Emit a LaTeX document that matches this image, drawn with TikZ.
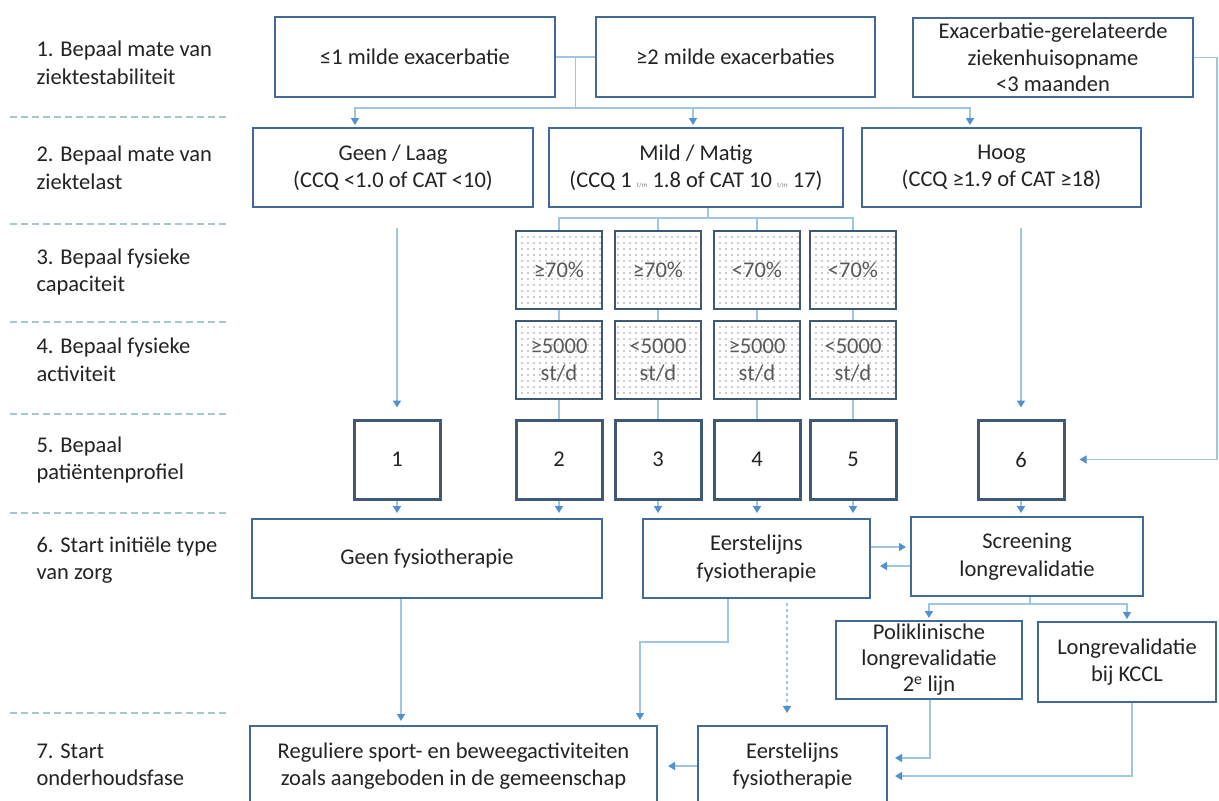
\documentclass[tikz,border=0pt]{standalone}
\usepackage{fontspec}
\setmainfont{Carlito}
\usetikzlibrary{arrows.meta,patterns.meta,calc}
\definecolor{boxc}{RGB}{66,106,152}
\definecolor{numc}{RGB}{62,88,118}
\definecolor{linec}{RGB}{160,198,225}
\definecolor{arrc}{RGB}{80,145,210}
\definecolor{dashc}{RGB}{165,200,205}
\definecolor{txt}{RGB}{35,35,35}
\newcommand{\tmx}{{\fontsize{7}{7}\selectfont\color{gray}t/m}}
\tikzset{
 box/.style={draw=boxc, line width=2pt, fill=white, align=center, text=txt, inner sep=1pt},
 numbox/.style={draw=numc, line width=3pt, minimum width=86pt, minimum height=79pt, text=txt},
 dotbox/.style={draw=numc, line width=2.5pt, pattern={Dots[distance=6pt,radius=0.9pt]}, pattern color=gray!80, minimum width=86pt, minimum height=78pt, align=center, text=black!65, inner sep=1pt},
 conn/.style={draw=linec, line width=1.6pt},
 arr/.style={conn, -{Triangle[color=arrc,width=8pt,length=7pt]}},
 sep/.style={draw=dashc, line width=2pt, dash pattern=on 7pt off 4pt},
 lab/.style={anchor=west, align=left, text=txt},
}
\begin{document}
\begin{tikzpicture}[x=1pt,y=-1pt,every node/.style={font=\fontsize{22.5}{27.5}\selectfont}]
\useasboundingbox[fill=white] (0,0) rectangle (1219,801);

% separators
\foreach \y in {117,224,322,414,513,713} \draw[sep] (10,\y) -- (229,\y);

% left labels
\node[lab] (l1) at (33,63) {1. Bepaal mate van\\ziektestabiliteit};
\node[lab] (l2) at (33,168) {2. Bepaal mate van\\ziektelast};
\node[lab] (l3) at (33,272) {3. Bepaal fysieke\\capaciteit};
\node[lab] (l4) at (33,360) {4. Bepaal fysieke\\activiteit};
\node[lab] (l5) at (33,460) {5. Bepaal\\patiëntenprofiel};
\node[lab] (l6) at (33,560) {6. Start initiële type\\van zorg};
\node[lab] (l7) at (33,765) {7. Start\\onderhoudsfase};

% row 1
\node[box, minimum width=280pt, minimum height=80pt] (b1a) at (415,57) {≤1 milde exacerbatie};
\node[box, minimum width=279pt, minimum height=80pt] (b1b) at (735.5,57) {≥2 milde exacerbaties};
\node[box, minimum width=280pt, minimum height=79pt, font=\fontsize{22.5}{26.5}\selectfont] (b1c) at (1053,57.5) {Exacerbatie-gerelateerde\\ziekenhuisopname\\<3 maanden};

% row 2
\node[box, minimum width=280pt, minimum height=79pt] (geen) at (393,167.5) {Geen / Laag\\(CCQ <1.0 of CAT <10)};
\node[box, minimum width=294pt, minimum height=79pt] (mild) at (696,167.5) {Mild / Matig\\(CCQ 1 \tmx{} 1.8 of CAT 10 \tmx{} 17)};
\node[box, minimum width=279pt, minimum height=79pt] (hoog) at (1001.5,167.5) {Hoog\\(CCQ ≥1.9 of CAT ≥18)};

% rows 3 and 4
\node[dotbox] (c1) at (559,270) {≥70\%};
\node[dotbox] (c2) at (658,270) {≥70\%};
\node[dotbox] (c3) at (757,270) {<70\%};
\node[dotbox] (c4) at (853,270) {<70\%};
\node[dotbox] (a1) at (559,360) {≥5000\\st/d};
\node[dotbox] (a2) at (658,360) {<5000\\st/d};
\node[dotbox] (a3) at (757,360) {≥5000\\st/d};
\node[dotbox] (a4) at (853,360) {<5000\\st/d};

% row 5
\node[numbox] (p1) at (397,459.5) {1};
\node[numbox] (p2) at (559,459.5) {2};
\node[numbox] (p3) at (658,459.5) {3};
\node[numbox] (p4) at (757,459.5) {4};
\node[numbox] (p5) at (853,459.5) {5};
\node[numbox] (p6) at (1021,459.5) {6};

% row 6
\node[box, minimum width=350pt, minimum height=79pt] (gf) at (427,558.5) {Geen fysiotherapie};
\node[box, minimum width=227pt, minimum height=79pt] (e1) at (756.5,558.5) {Eerstelijns\\fysiotherapie};
\node[box, minimum width=232pt, minimum height=79pt] (sc) at (1027,556.5) {Screening\\longrevalidatie};
\node[box, minimum width=186pt, minimum height=78pt, inner sep=0pt, font=\fontsize{22.5}{26}\selectfont] (pol) at (929,660) {Poliklinische\\longrevalidatie\\2\textsuperscript{e} lijn};
\node[box, minimum width=178pt, minimum height=80pt] (kccl) at (1127,662) {Longrevalidatie\\bij KCCL};

% row 7
\node[box, minimum width=407pt, minimum height=80pt] (reg) at (453.5,766) {Reguliere sport- en beweegactiviteiten\\zoals aangeboden in de gemeenschap};
\node[box, minimum width=189pt, minimum height=80pt] (e2) at (792.5,766) {Eerstelijns\\fysiotherapie};

% connectors row 1 -> row 2
\coordinate (j1) at ($(b1a.east)!0.5!(b1b.west)$);
\coordinate (h1) at ($(j1)+(0,51)$);
\draw[conn] (b1a.east) -- (b1b.west);
\draw[conn] (j1) -- (h1);
\draw[arr, shorten >=2pt] (h1) -| ([xshift=-38pt]geen.north);
\draw[arr, shorten >=2pt] (h1) -| ([xshift=-3pt]mild.north);
\draw[arr, shorten >=2pt] (h1) -| ([xshift=-31.5pt]hoog.north);

% mild -> rows 3,4,5
\coordinate (m1) at ([xshift=12pt]mild.south);
\coordinate (h2) at ($(m1)+(0,10)$);
\draw[conn] (m1) -- (h2);
\foreach \n in {c1,c2,c3,c4} \draw[conn] (h2) -| (\n.north);
\draw[conn] (c1.south) -- (a1.north);
\draw[conn] (c2.south) -- (a2.north);
\draw[conn] (c3.south) -- (a3.north);
\draw[conn] (c4.south) -- (a4.north);
\draw[conn] (a1.south) -- (p2.north);
\draw[conn] (a2.south) -- (p3.north);
\draw[conn] (a3.south) -- (p4.north);
\draw[conn] (a4.south) -- (p5.north);

% row 2 -> row 5
\draw[arr, shorten <=20pt, shorten >=11pt] (p1.north |- geen.south) -- (p1.north);
\draw[arr, shorten <=20pt, shorten >=11pt] (p6.north |- hoog.south) -- (p6.north);
\coordinate (rc) at (1217,0);
\draw[arr, shorten >=14pt] (b1c.east) -- (b1c.east -| rc) |- (p6.east);

% row 5 -> row 6
\draw[arr, shorten >=5pt] (p1.south) -- (p1.south |- gf.north);
\draw[arr, shorten >=5pt] (p2.south) -- (p2.south |- gf.north);
\draw[arr, shorten >=5pt] (p3.south) -- (p3.south |- e1.north);
\draw[arr, shorten >=5pt] (p4.south) -- (p4.south |- e1.north);
\draw[arr, shorten >=5pt] (p5.south) -- (p5.south |- e1.north);
\draw[arr, shorten >=3pt] (p6.south) -- (p6.south |- sc.north);

% e1 <-> sc
\draw[arr, shorten >=4pt] ([yshift=11.5pt]e1.east) -- ([yshift=11.5pt]e1.east -| sc.west);
\draw[arr, shorten >=9pt] ([yshift=-9.5pt]sc.west) -- ([yshift=-9.5pt]sc.west -| e1.east);

% sc -> pol, kccl
\coordinate (s1) at ([xshift=3pt]sc.south);
\coordinate (h3) at ($(s1)+(0,7)$);
\draw[conn] (s1) -- (h3);
\draw[arr, shorten >=2pt] (h3) -| (pol.north);
\draw[arr, shorten >=2pt] (h3) -| (kccl.north);

% row 6 -> row 7
\draw[arr, shorten >=4pt] ([xshift=-26pt]gf.south) -- ([xshift=-26pt]gf.south |- reg.north);
\coordinate (e1b) at ([xshift=-28.5pt]e1.south);
\coordinate (k1) at ($(e1b)+(0,43)$);
\draw[arr, shorten >=5pt] (e1b) -- (k1) -| ([xshift=186.5pt]reg.north);
\draw[arr, dash pattern=on 3pt off 3pt, shorten <=4pt, shorten >=12pt] ([xshift=-5.5pt]e2.north |- e1.south) -- ([xshift=-5.5pt]e2.north);
\draw[arr, shorten >=7pt] ([xshift=1pt]pol.south) |- ([yshift=8pt]e2.east);
\draw[arr, shorten >=7pt] ([xshift=5pt]kccl.south) |- ([yshift=-10pt]e2.east);
\draw[arr, shorten >=10pt] (e2.west) -- (e2.west -| reg.east);
\end{tikzpicture}
\end{document}
